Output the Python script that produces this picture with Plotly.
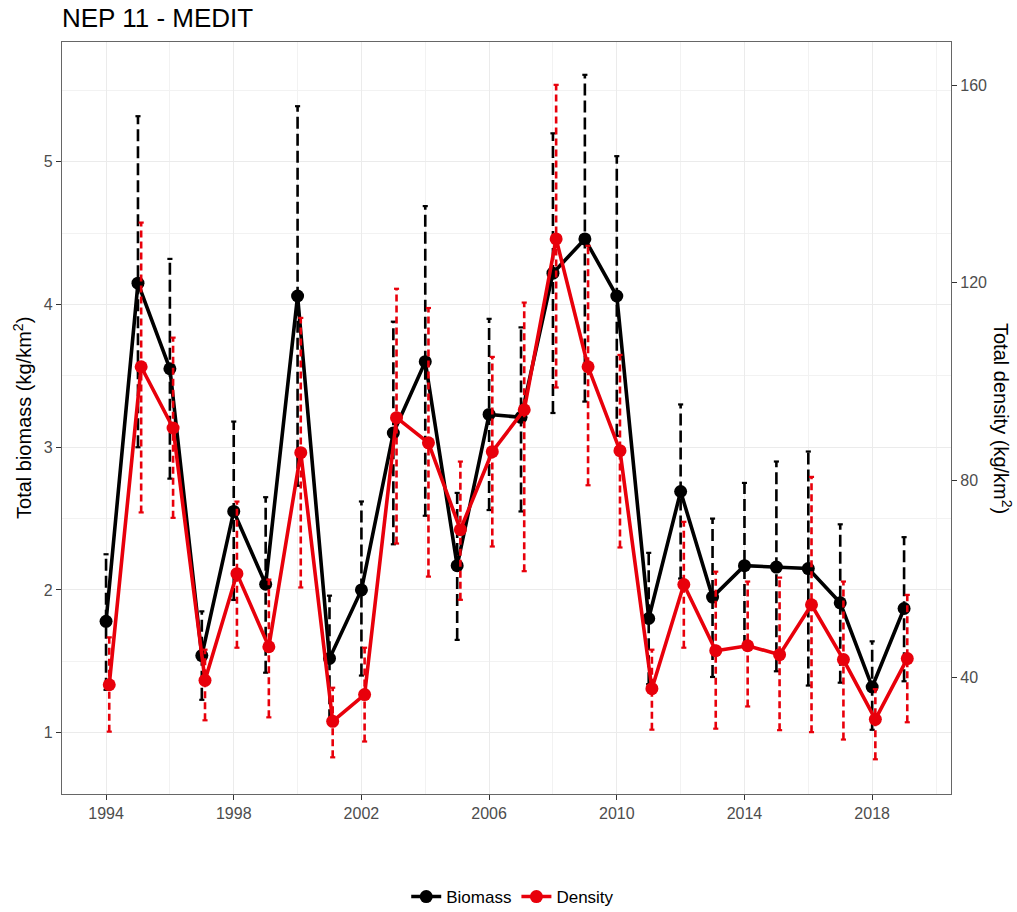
import plotly.graph_objects as go

# Survey years
years = list(range(1994, 2020))

# Total biomass index (kg/km2) with lower / upper bounds
biomass = [1.78, 4.15, 3.55, 1.54, 2.55, 2.04, 4.06, 1.52, 2.00, 3.10, 3.60, 2.17, 3.23,
           3.21, 4.22, 4.46, 4.06, 1.80, 2.69, 1.95, 2.17, 2.16, 2.15, 1.91, 1.32, 1.87]
biomass_lo = [1.30, 3.00, 2.78, 1.23, 1.93, 1.42, 2.73, 1.08, 1.40, 2.32, 2.52, 1.65, 2.56,
              2.55, 3.24, 3.32, 3.08, 1.34, 2.08, 1.39, 1.60, 1.43, 1.33, 1.35, 1.02, 1.36]
biomass_hi = [2.25, 5.32, 4.32, 1.85, 3.18, 2.65, 5.39, 1.96, 2.62, 3.88, 4.69, 2.68, 3.90,
              3.84, 5.20, 5.61, 5.04, 2.26, 3.30, 2.50, 2.75, 2.90, 2.97, 2.46, 1.64, 2.37]

# Total density index with lower / upper bounds
density = [38.6, 103.0, 90.6, 39.5, 61.1, 46.3, 85.6, 31.2, 36.6, 92.7, 87.6, 70.0, 85.8,
           94.3, 128.9, 103.0, 86.0, 37.8, 58.9, 45.5, 46.5, 44.7, 54.8, 43.7, 31.6, 43.9]
density_lo = [29.1, 73.5, 72.4, 31.4, 46.1, 32.0, 58.3, 23.9, 27.1, 67.2, 60.5, 55.8, 66.6,
              61.6, 98.8, 79.0, 66.4, 29.5, 46.1, 29.7, 34.2, 29.4, 29.0, 27.5, 23.5, 31.0]
density_hi = [48.2, 132.2, 108.9, 45.7, 75.7, 59.9, 112.9, 38.0, 46.1, 118.8, 114.9, 83.8, 105.0,
              116.0, 160.1, 127.5, 105.4, 45.7, 71.6, 61.5, 59.5, 60.3, 80.7, 59.5, 37.7, 56.8]

# Secondary axis is a linear rescaling of the biomass axis
SCALE = 28.9
Y_RANGE = [0.57, 5.84]
X_RANGE = [1992.62, 2020.47]
DODGE = 0.1
CAP = 0.08

BLACK = "#000000"
RED = "#E8000B"


def bar_paths(xs, lo, hi):
    vx, vy, cx, cy = [], [], [], []
    for x, a, b in zip(xs, lo, hi):
        vx += [x, x, None]
        vy += [a, b, None]
        for v in (a, b):
            cx += [x - CAP, x + CAP, None]
            cy += [v, v, None]
    return vx, vy, cx, cy


fig = go.Figure()

series = [
    ("Biomass", [y for y in years], biomass, biomass_lo, biomass_hi, BLACK, "y", "12px,5px"),
    ("Density", [y + DODGE for y in years], density, density_lo, density_hi, RED, "y2", "7px,4px"),
]

for name, xs, vals, lo, hi, col, ax, dash in series:
    vx, vy, cx, cy = bar_paths(xs, lo, hi)
    fig.add_trace(go.Scatter(x=vx, y=vy, mode="lines", yaxis=ax, showlegend=False,
                             hoverinfo="skip", line=dict(color=col, width=2.6, dash=dash)))
    fig.add_trace(go.Scatter(x=cx, y=cy, mode="lines", yaxis=ax, showlegend=False,
                             hoverinfo="skip", line=dict(color=col, width=2.2)))
    fig.add_trace(go.Scatter(x=xs, y=vals, mode="lines+markers", yaxis=ax, name=name,
                             line=dict(color=col, width=3.6),
                             marker=dict(color=col, size=13)))

tick_font = dict(family="Liberation Sans, Arial, sans-serif", size=16, color="#4D4D4D")

fig.update_layout(
    width=1017, height=912,
    margin=dict(l=62, r=66, t=42, b=118, autoexpand=False),
    paper_bgcolor="white", plot_bgcolor="white",
    font=dict(family="Liberation Sans, Arial, sans-serif", color="black"),
    title=dict(text="NEP 11 - MEDIT", xref="container", yref="container",
               x=62 / 1017, xanchor="left", y=1 - 18 / 912, yanchor="middle",
               font=dict(size=26, color="black")),
    xaxis=dict(range=X_RANGE, tickmode="array", tickvals=[1994, 1998, 2002, 2006, 2010, 2014, 2018],
               showgrid=True, gridcolor="#EBEBEB", gridwidth=1.1, zeroline=False,
               minor=dict(tickmode="array", tickvals=[1996, 2000, 2004, 2008, 2012, 2016, 2020],
                          showgrid=True, gridcolor="#F2F2F2", gridwidth=0.6, ticks=""),
               ticks="outside", ticklen=5, tickcolor="#333333", tickwidth=1,
               showline=True, linecolor="#666666", linewidth=1.2, mirror=True,
               tickfont=tick_font),
    yaxis=dict(range=Y_RANGE, tickmode="array", tickvals=[1, 2, 3, 4, 5],
               showgrid=True, gridcolor="#EBEBEB", gridwidth=1.1, zeroline=False,
               minor=dict(tickmode="array", tickvals=[1.5, 2.5, 3.5, 4.5, 5.5],
                          showgrid=True, gridcolor="#F2F2F2", gridwidth=0.6, ticks=""),
               ticks="outside", ticklen=5, tickcolor="#333333", tickwidth=1,
               showline=True, linecolor="#666666", linewidth=1.2, mirror=True,
               tickfont=tick_font),
    yaxis2=dict(range=[Y_RANGE[0] * SCALE, Y_RANGE[1] * SCALE], overlaying="y", side="right",
                tickmode="array", tickvals=[40, 80, 120, 160], showgrid=False, zeroline=False,
                ticks="outside", ticklen=5, tickcolor="#333333", tickwidth=1,
                showline=True, linecolor="#666666", linewidth=1.2,
                tickfont=tick_font),
    legend=dict(orientation="h", x=0.507, xanchor="center", y=-0.137, yanchor="middle",
                font=dict(size=17, color="black"), itemwidth=30),
    annotations=[
        dict(text="Total biomass (kg/km<sup>2</sup>)", xref="paper", yref="paper",
             x=-0.045, y=0.5, xanchor="center", yanchor="middle", textangle=-90,
             showarrow=False, font=dict(size=20, color="black")),
        dict(text="Total density (kg/km<sup>2</sup>)", xref="paper", yref="paper",
             x=1.0585, y=0.5, xanchor="center", yanchor="middle", textangle=90,
             showarrow=False, font=dict(size=20, color="black")),
    ],
)

fig.write_html("out.html")
